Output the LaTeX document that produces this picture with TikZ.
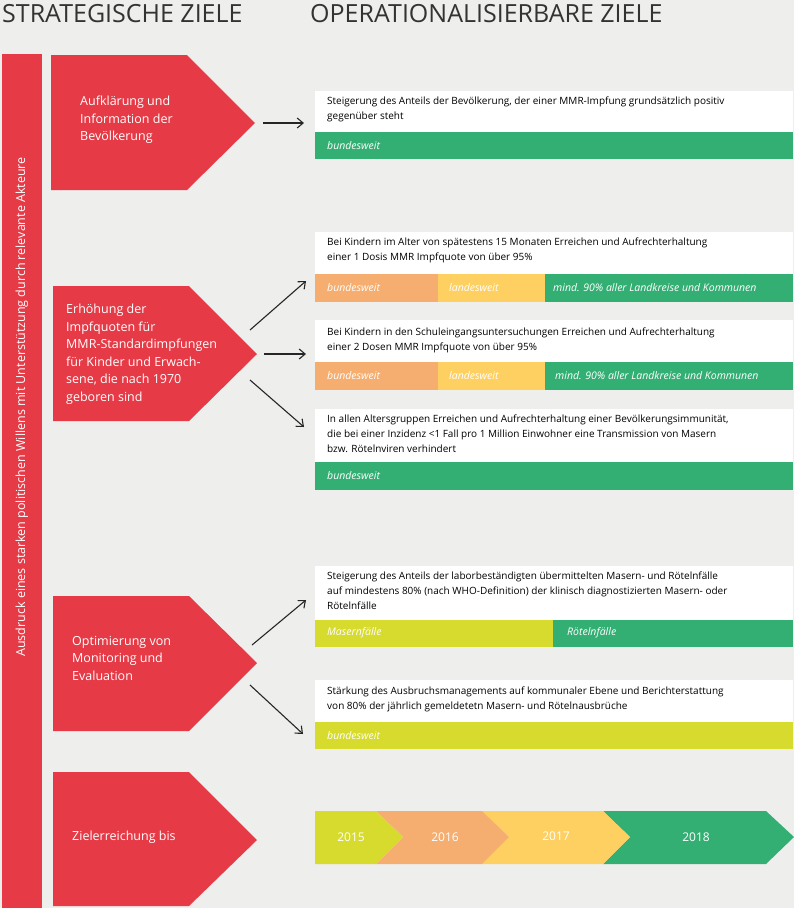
\documentclass[tikz,border=0pt]{standalone}
\usepackage{fontspec}
\setmainfont{Open Sans}
\usetikzlibrary{arrows.meta}
\definecolor{bg}{HTML}{EEEEEC}
\definecolor{rd}{HTML}{E63A46}
\definecolor{gn}{HTML}{34AF74}
\definecolor{og}{HTML}{F5AE6F}
\definecolor{ye}{HTML}{FED061}
\definecolor{li}{HTML}{D7DB2E}
\definecolor{hd}{HTML}{333333}
\begin{document}
\begin{tikzpicture}[x=1pt,y=-1pt,
  penta/.style={fill=rd},
  ptext/.style={anchor=north west,align=left,text=white,font=\fontsize{12.5}{17.5}\selectfont,inner sep=0pt},
  btext/.style={anchor=north west,align=left,text=black,font=\fontsize{10}{15}\selectfont,inner sep=0pt},
  ltext/.style={anchor=west,text=white,font=\fontsize{10.5}{12}\selectfont\itshape,inner sep=0pt},
  arr/.style={-{Straight Barb[length=6pt,width=10pt]},line width=1.1pt,draw=black!85},
  ytext/.style={text=white,font=\fontsize{12}{14}\selectfont}]
\useasboundingbox (0,0) rectangle (794,908);
\fill[bg] (0,0) rectangle (794,908);
\node[anchor=base west,inner sep=0pt,text=hd,font=\fontsize{25}{25}\selectfont] (h1) at (2,22) {STRATEGISCHE ZIELE};
\node[anchor=base west,inner sep=0pt,text=hd,font=\fontsize{25}{25}\selectfont] (h2) at (310,22) {OPERATIONALISIERBARE ZIELE};
% left bar
\fill[rd] (2,54) rectangle (42,908);
\node[rotate=90,text=white,font=\fontsize{12.5}{14}\selectfont] (vb) at (22,407) {Ausdruck eines starken politischen Willens mit Unterstützung durch relevante Akteure};
% pentagons
\fill[penta] (51,55) -- (187,55) -- (255,123) -- (187,190) -- (51,190) -- cycle;
\coordinate (t1) at (263,123);
\node[ptext] (p1) at (80,96) {Aufklärung und\\Information der\\Bevölkerung};
\fill[penta] (53,286) -- (189,286) -- (257,354) -- (189,421) -- (53,421) -- cycle;
\node[ptext] (p2) at (66,304) {Erhöhung der\\Impfquoten für\\MMR-Standardimpfungen\\für Kinder und Erwach-\\sene, die nach 1970\\geboren sind};
\coordinate (t2a) at (250,330); \coordinate (t2b) at (264,354); \coordinate (t2c) at (250,380);
\fill[penta] (53,596) -- (189,596) -- (257,663) -- (189,731) -- (53,731) -- cycle;
\node[ptext] (p3) at (72,636) {Optimierung von\\Monitoring und\\Evaluation};
\coordinate (t3a) at (252,645); \coordinate (t3b) at (250,685);
\fill[penta] (53,772) -- (189,772) -- (257,840) -- (189,906) -- (53,906) -- cycle;
\node[ptext] (p4) at (72,831) {Zielerreichung bis};
% boxes
\fill[white] (315,91) rectangle (793,132); \fill[gn] (315,132) rectangle (793,159);
\node[btext] (b1) at (327,97) {Steigerung des Anteils der Bevölkerung, der einer MMR-Impfung grundsätzlich positiv\\gegenüber steht};
\node[ltext] (l1) at (327,146) {bundesweit};
\coordinate (e1) at (304,123);
\fill[white] (315,232) rectangle (793,274);
\fill[og] (315,274) rectangle (438,302); \fill[ye] (438,274) rectangle (545,302); \fill[gn] (545,274) rectangle (793,302);
\node[btext] (b2) at (327,238) {Bei Kindern im Alter von spätestens 15 Monaten Erreichen und Aufrechterhaltung\\einer 1 Dosis MMR Impfquote von über 95\%};
\node[ltext] at (327,288) {bundesweit};
\node[ltext] at (449,288) {landesweit};
\node[ltext] at (553,288) {mind. 90\% aller Landkreise und Kommunen};
\coordinate (e2a) at (306,281);
\fill[white] (315,320) rectangle (793,362);
\fill[og] (315,362) rectangle (438,390); \fill[ye] (438,362) rectangle (545,390); \fill[gn] (545,362) rectangle (793,390);
\node[btext] (b3) at (327,328) {Bei Kindern in den Schuleingangsuntersuchungen Erreichen und Aufrechterhaltung\\einer 2 Dosen MMR Impfquote von über 95\%};
\node[ltext] at (327,376) {bundesweit};
\node[ltext] at (449,376) {landesweit};
\node[ltext] at (555,376) {mind. 90\% aller Landkreise und Kommunen};
\coordinate (e2b) at (306,354);
\fill[white] (315,409) rectangle (793,462); \fill[gn] (315,462) rectangle (793,490);
\node[btext] (b4) at (327,415) {In allen Altersgruppen Erreichen und Aufrechterhaltung einer Bevölkerungsimmunität,\\die bei einer Inzidenz <1 Fall pro 1 Million Einwohner eine Transmission von Masern\\bzw. Rötelnviren verhindert};
\node[ltext] at (327,476) {bundesweit};
\coordinate (e2c) at (304,427);
\fill[white] (315,566) rectangle (793,620);
\fill[li] (315,620) rectangle (553,647); \fill[gn] (553,620) rectangle (793,647);
\node[btext] (b5) at (327,572) {Steigerung des Anteils der laborbeständigten übermittelten Masern- und Rötelnfälle\\auf mindestens 80\% (nach WHO-Definition) der klinisch diagnostizierten Masern- oder\\Rötelnfälle};
\node[ltext] at (327,633) {Masernfälle};
\node[ltext] at (567,633) {Rötelnfälle};
\coordinate (e3a) at (306,600);
\fill[white] (315,680) rectangle (793,722); \fill[li] (315,722) rectangle (793,749);
\node[btext] (b6) at (327,687) {Stärkung des Ausbruchsmanagements auf kommunaler Ebene und Berichterstattung\\von 80\% der jährlich gemeldetetn Masern- und Rötelnausbrüche};
\node[ltext] at (327,736) {bundesweit};
\coordinate (e3b) at (303,734);
% arrows
\draw[arr] (t1) -- (e1);
\draw[arr] (t2a) -- (e2a);
\draw[arr] (t2b) -- (e2b);
\draw[arr] (t2c) -- (e2c);
\draw[arr] (t3a) -- (e3a);
\draw[arr] (t3b) -- (e3b);
% timeline
\fill[gn] (603,811) -- (766,811) -- (794,837) -- (766,864) -- (603,864) -- (630,837) -- cycle;
\fill[ye] (482,811) -- (603,811) -- (630,837) -- (603,864) -- (482,864) -- (509,837) -- cycle;
\fill[og] (376,811) -- (482,811) -- (509,837) -- (482,864) -- (376,864) -- (403,837) -- cycle;
\fill[li] (315,811) -- (376,811) -- (403,837) -- (376,864) -- (315,864) -- cycle;
\node[ytext] (y1) at (351,837) {2015};
\node[ytext] (y2) at (445,837) {2016};
\node[ytext] (y3) at (556,836) {2017};
\node[ytext] (y4) at (696,837) {2018};
\end{tikzpicture}
\end{document}
